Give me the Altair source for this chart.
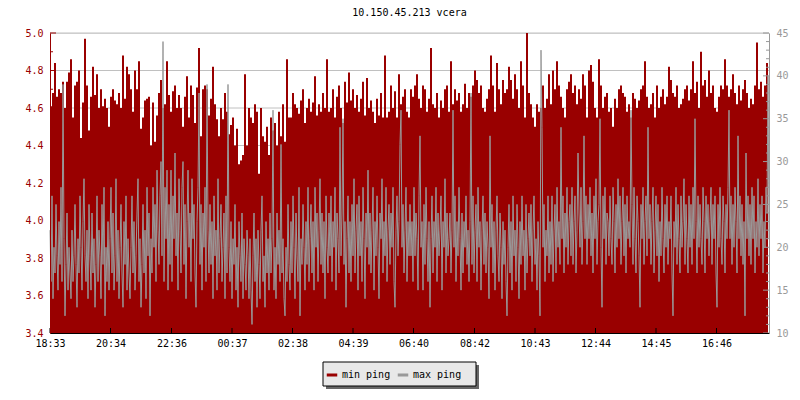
import altair as alt
import pandas as pd

TITLE = "10.150.45.213 vcera"
FONT = "DejaVu Sans Mono"
RED = "#990000"
GRAY = "#999999"
W, H = 719, 300
MIN_STEP = 4  # minutes between min-ping samples
MAX_STEP = 2  # minutes between max-ping samples

# x tick positions (minutes after 18:33) and their labels
xtick_minutes = [0, 121, 243, 364, 485, 606, 727, 849, 970, 1091, 1212, 1333]
xtick_labels = ["18:33", "20:34", "22:36", "00:37", "02:38", "04:39",
                "06:40", "08:42", "10:43", "12:44", "14:45", "16:46"]

left_major = [3.4, 3.6, 3.8, 4.0, 4.2, 4.4, 4.6, 4.8, 5.0]
left_minor = [3.5, 3.7, 3.9, 4.1, 4.3, 4.5, 4.7, 4.9]
grid_values = [4.2, 4.4, 4.6, 4.8, 5.0]
right_major = [10, 15, 20, 25, 30, 35, 40, 45]
right_minor = [v for v in range(10, 46) if v % 5 != 0]

series_names = ["min ping", "max ping"]

# min ping (left axis, ms)
min_ping = [
    4.61, 4.68, 4.84, 4.66, 4.70, 4.68, 4.74, 4.60, 4.74, 4.79, 4.86, 4.55, 4.72, 4.74, 4.80, 4.44, 4.63, 4.97, 4.72, 4.48,
    4.66, 4.82, 4.67, 4.78, 4.60, 4.70, 4.61, 4.65, 4.60, 4.50, 4.66, 4.70, 4.64, 4.62, 4.68, 4.60, 4.88, 4.65, 4.82, 4.78,
    4.70, 4.58, 4.80, 4.70, 4.85, 4.49, 4.55, 4.64, 4.65, 4.66, 4.40, 4.63, 4.42, 4.56, 4.68, 4.75, 4.60, 4.62, 4.85, 4.67,
    4.58, 4.69, 4.72, 4.60, 4.67, 4.60, 4.50, 4.66, 4.77, 4.55, 4.72, 4.67, 4.52, 4.71, 4.92, 4.45, 4.70, 4.72, 4.70, 4.56,
    4.65, 4.82, 4.62, 4.54, 4.45, 4.60, 4.54, 4.68, 4.58, 4.46, 4.51, 4.55, 4.40, 4.49, 4.30, 4.32, 4.35, 4.78, 4.40, 4.60,
    4.55, 4.52, 4.62, 4.58, 4.25, 4.60, 4.45, 4.42, 4.50, 4.35, 4.55, 4.48, 4.52, 4.40, 4.58, 4.45, 4.62, 4.42, 4.86, 4.55,
    4.55, 4.68, 4.62, 4.60, 4.57, 4.64, 4.70, 4.52, 4.60, 4.65, 4.58, 4.63, 4.77, 4.56, 4.62, 4.58, 4.68, 4.60, 4.86, 4.58,
    4.60, 4.70, 4.55, 4.66, 4.72, 4.60, 4.52, 4.74, 4.63, 4.79, 4.64, 4.70, 4.60, 4.67, 4.58, 4.65, 4.74, 4.56, 4.76, 4.60,
    4.64, 4.58, 4.52, 4.65, 4.56, 4.68, 4.55, 4.88, 4.55, 4.58, 4.72, 4.60, 4.69, 4.55, 4.78, 4.62, 4.66, 4.70, 4.58, 4.55,
    4.70, 4.66, 4.72, 4.78, 4.65, 4.60, 4.72, 4.70, 4.58, 4.65, 4.92, 4.62, 4.60, 4.68, 4.55, 4.64, 4.60, 4.70, 4.72, 4.58,
    4.85, 4.62, 4.70, 4.64, 4.68, 4.58, 4.62, 4.73, 4.60, 4.68, 4.66, 4.72, 4.80, 4.75, 4.68, 4.72, 4.60, 4.58, 4.65, 4.70,
    4.88, 4.72, 4.58, 4.84, 4.70, 4.62, 4.75, 4.68, 4.70, 4.82, 4.75, 4.65, 4.78, 4.70, 4.60, 4.85, 4.72, 4.55, 5.00, 4.68,
    4.62, 4.55, 4.50, 4.62, 4.58, 4.60, 4.72, 4.60, 4.65, 4.78, 4.62, 4.80, 4.70, 4.85, 4.72, 4.66, 4.60, 4.55, 4.70, 4.74,
    4.78, 4.68, 4.72, 4.62, 4.70, 4.65, 4.78, 4.72, 4.55, 4.80, 4.83, 4.74, 4.60, 4.55, 4.86, 4.72, 4.60, 4.66, 4.68, 4.58,
    4.60, 4.50, 4.65, 4.60, 4.70, 4.72, 4.68, 4.66, 4.58, 4.62, 4.55, 4.68, 4.65, 4.60, 4.64, 4.70, 4.72, 4.85, 4.66, 4.60,
    4.62, 4.68, 4.55, 4.72, 4.60, 4.66, 4.70, 4.62, 4.66, 4.82, 4.75, 4.68, 4.66, 4.72, 4.60, 4.62, 4.65, 4.70, 4.72, 4.64,
    4.70, 4.85, 4.68, 4.74, 4.60, 4.90, 4.72, 4.75, 4.66, 4.80, 4.68, 4.72, 4.60, 4.58, 4.66, 4.72, 4.70, 4.86, 4.72, 4.66,
    4.70, 4.78, 4.68, 4.62, 4.72, 4.64, 4.70, 4.75, 4.68, 4.60, 4.65, 4.62, 4.72, 4.95, 4.70, 4.74, 4.66, 4.72, 4.84, 4.60,
]

# max ping (right axis, ms)
max_ping = [
    22, 16, 26, 14, 20, 17, 25, 19, 15, 23, 18, 27, 16, 39, 21, 12, 18, 24, 15, 20,
    17, 14, 22, 16, 19, 25, 18, 13, 21, 17, 26, 20, 15, 23, 28, 19, 16, 22, 14, 25,
    19, 15, 24, 17, 21, 13, 18, 26, 16, 22, 19, 14, 25, 18, 27, 12, 20, 16, 23, 15,
    21, 27, 17, 24, 15, 19, 28, 16, 22, 14, 20, 25, 17, 13, 23, 18, 26, 15, 21, 17,
    14, 20, 26, 17, 23, 15, 19, 24, 28, 16, 21, 13, 18, 25, 17, 22, 14, 27, 19, 24,
    12, 21, 17, 27, 20, 25, 16, 29, 22, 18, 26, 30, 19, 44, 16, 27, 21, 29, 15, 25,
    18, 29, 16, 26, 21, 31, 19, 24, 15, 28, 22, 17, 27, 30, 18, 25, 14, 23, 29, 20,
    24, 16, 28, 21, 25, 17, 13, 23, 27, 38, 18, 25, 15, 24, 20, 27, 16, 39, 22, 17,
    25, 18, 23, 14, 26, 19, 22, 15, 28, 17, 21, 25, 16, 20, 24, 14, 26, 17, 39, 20,
    16, 23, 14, 21, 18, 25, 15, 20, 13, 23, 19, 16, 24, 14, 21, 18, 15, 22, 19, 14,
    21, 15, 11, 19, 24, 16, 21, 13, 22, 18, 14, 22, 26, 16, 19, 13, 23, 17, 21, 15,
    24, 17, 21, 36, 15, 20, 14, 24, 18, 22, 16, 32, 17, 21, 14, 12, 20, 16, 25, 18,
    15, 23, 17, 26, 20, 14, 24, 19, 16, 27, 12, 21, 18, 25, 20, 15, 23, 18, 27, 16,
    21, 25, 17, 23, 15, 27, 20, 24, 16, 22, 28, 18, 24, 17, 23, 14, 26, 20, 17, 24,
    19, 26, 16, 23, 20, 27, 15, 24, 21, 17, 34, 19, 24, 35, 18, 23, 13, 21, 26, 17,
    23, 16, 25, 19, 28, 17, 22, 25, 15, 26, 19, 23, 16, 27, 21, 14, 24, 20, 29, 18,
    24, 17, 22, 27, 15, 23, 19, 26, 20, 14, 24, 21, 28, 17, 23, 19, 27, 16, 22, 25,
    18, 24, 20, 27, 16, 13, 22, 26, 19, 23, 32, 36, 20, 25, 17, 22, 27, 16, 23, 19,
    25, 19, 23, 16, 27, 19, 24, 21, 15, 26, 33, 20, 23, 15, 25, 18, 27, 21, 16, 23,
    13, 21, 26, 17, 23, 20, 27, 16, 24, 19, 22, 26, 15, 23, 20, 28, 17, 24, 19, 21,
    24, 17, 22, 36, 20, 26, 16, 23, 19, 27, 21, 15, 24, 17, 23, 20, 26, 18, 22, 16,
    23, 38, 18, 26, 17, 22, 25, 16, 27, 20, 23, 15, 22, 26, 18, 24, 17, 23, 20, 14,
    33, 20, 25, 17, 23, 15, 22, 26, 19, 16, 24, 20, 14, 23, 18, 22, 16, 12, 20, 25,
    17, 23, 15, 26, 19, 22, 16, 25, 20, 14, 23, 18, 26, 19, 22, 15, 25, 17, 21, 24,
    19, 25, 16, 22, 26, 18, 21, 15, 23, 19, 12, 43, 34, 20, 25, 16, 22, 19, 26, 17,
    23, 18, 26, 16, 22, 25, 17, 27, 20, 23, 18, 34, 21, 26, 17, 24, 20, 27, 18, 23,
    25, 19, 27, 18, 23, 26, 17, 22, 31, 24, 20, 27, 18, 23, 33, 21, 26, 18, 25, 21,
    27, 19, 24, 17, 26, 21, 28, 18, 23, 25, 35, 20, 13, 26, 21, 27, 18, 24, 23, 19,
    26, 21, 18, 27, 23, 17, 25, 20, 28, 21, 26, 18, 23, 27, 19, 25, 17, 26, 21, 23,
    20, 36, 25, 18, 27, 21, 17, 26, 23, 19, 13, 25, 21, 27, 18, 23, 26, 19, 34, 21,
    25, 18, 23, 27, 17, 22, 26, 19, 25, 16, 23, 19, 27, 21, 17, 25, 20, 26, 18, 23,
    21, 26, 17, 12, 23, 20, 27, 18, 25, 21, 17, 26, 20, 23, 28, 18, 25, 21, 17, 26,
    20, 25, 18, 27, 21, 35, 23, 17, 26, 20, 25, 21, 18, 27, 23, 17, 26, 21, 25, 19,
    23, 27, 18, 25, 21, 26, 17, 13, 25, 20, 27, 21, 18, 26, 23, 17, 25, 21, 27, 36,
    21, 26, 18, 25, 20, 27, 23, 17, 33, 21, 26, 19, 25, 18, 23, 12, 31, 21, 26, 19,
    25, 18, 27, 21, 26, 17, 23, 20, 28, 19, 25, 21, 26, 17, 23, 20, 27, 24, 40, 21,
]

df_min = pd.DataFrame({"t": [i * MIN_STEP for i in range(len(min_ping))], "minp": min_ping})
df_max = pd.DataFrame({"t": [i * MAX_STEP for i in range(len(max_ping))], "maxp": max_ping,
                       "series": ["max ping"] * len(max_ping)})

X_DOMAIN = [0, 1438]
xscale = alt.Scale(domain=X_DOMAIN, nice=False, zero=False)
lscale = alt.Scale(domain=[3.4, 5.0], nice=False, zero=False, clamp=True)
rscale = alt.Scale(domain=[10, 45], nice=False, zero=False, clamp=True)

label_expr = "[" + ",".join("'%s'" % s for s in xtick_labels) + "][indexof([" + \
    ",".join(str(v) for v in xtick_minutes) + "], datum.value)]"

x_axis = alt.Axis(values=xtick_minutes, labelExpr=label_expr, title=None, grid=False,
                  ticks=False, labelPadding=5, domainColor="black",
                  labelColor="black", labelFont=FONT, labelFontSize=10, zindex=2,
                  labelFlush=False, labelOverlap=False)

left_axis = alt.Axis(orient="left", values=left_major, format=".1f", title=None,
                     grid=False, ticks=False, labelPadding=7, domainColor=RED,
                     labelColor=RED, labelFont=FONT, labelFontSize=10, zindex=2,
                     labelFlush=False, minExtent=42, maxExtent=42)

right_axis = alt.Axis(orient="right", values=right_major, format="d", title=None,
                      grid=False, ticks=False, labelPadding=7, domainColor=GRAY,
                      labelColor=GRAY, labelFont=FONT, labelFontSize=10, zindex=2,
                      labelFlush=False)

grid = alt.Chart(pd.DataFrame({"v": grid_values})).mark_rule(color="#c0c0c0", strokeWidth=1).encode(
    y=alt.Y("v:Q", scale=lscale, axis=None)
)

area = alt.Chart(df_min).mark_area(interpolate="step-after", color=RED, opacity=1).encode(
    x=alt.X("t:Q", scale=xscale, axis=x_axis),
    y=alt.Y("minp:Q", scale=lscale, axis=left_axis),
    y2=alt.datum(3.4),
)

lt_major = alt.Chart(pd.DataFrame({"v": left_major})).mark_rule(color=RED).encode(
    y=alt.Y("v:Q", scale=lscale, axis=None), x=alt.value(0), x2=alt.value(6))
lt_minor = alt.Chart(pd.DataFrame({"v": left_minor})).mark_rule(color=RED).encode(
    y=alt.Y("v:Q", scale=lscale, axis=None), x=alt.value(0), x2=alt.value(3))

line = alt.Chart(df_max).mark_line(strokeWidth=1, interpolate="linear").encode(
    x=alt.X("t:Q", scale=xscale, axis=x_axis),
    y=alt.Y("maxp:Q", scale=rscale, axis=right_axis),
    color=alt.Color("series:N",
                    scale=alt.Scale(domain=series_names, range=[RED, GRAY]),
                    legend=alt.Legend(orient="none", legendX=269, legendY=329,
                                      direction="horizontal", title=None,
                                      symbolType="stroke", symbolSize=110,
                                      symbolStrokeWidth=3, labelFont=FONT,
                                      labelFontSize=10, labelColor="black",
                                      labelOffset=3, columnPadding=0, padding=6)),
)

rt_major = alt.Chart(pd.DataFrame({"v": right_major})).mark_rule(color=GRAY).encode(
    y=alt.Y("v:Q", scale=rscale, axis=None), x=alt.value(W - 6), x2=alt.value(W))
rt_minor = alt.Chart(pd.DataFrame({"v": right_minor})).mark_rule(color=GRAY).encode(
    y=alt.Y("v:Q", scale=rscale, axis=None), x=alt.value(W - 3), x2=alt.value(W))

xticks = alt.Chart(pd.DataFrame({"t": xtick_minutes})).mark_rule(color="black").encode(
    x=alt.X("t:Q", scale=xscale, axis=x_axis), y=alt.value(H - 5), y2=alt.value(H))

# legend box with shadow
LEG_X, LEG_Y, LEG_W, LEG_H, SH = 273, 329, 153, 24, 3
one = pd.DataFrame({"a": [0]})
shadow = alt.Chart(one).mark_rect(color="#666666").encode(
    x=alt.value(LEG_X + SH), x2=alt.value(LEG_X + LEG_W + SH),
    y=alt.value(LEG_Y + SH), y2=alt.value(LEG_Y + LEG_H + SH))
box = alt.Chart(one).mark_rect(fill="#e8e8e8", stroke="black", strokeWidth=1).encode(
    x=alt.value(LEG_X), x2=alt.value(LEG_X + LEG_W),
    y=alt.value(LEG_Y), y2=alt.value(LEG_Y + LEG_H))

chart = alt.layer(
    grid, area, lt_major, lt_minor, line, rt_major, rt_minor, xticks, shadow, box
).resolve_scale(y="independent").properties(
    width=W, height=H, padding=0,
    title=alt.Title(TITLE, font=FONT, fontSize=10, fontWeight="normal",
                    color="black", anchor="middle", offset=10),
).configure_view(strokeWidth=0).configure(background="white")

chart.save("out.html", embed_options={"renderer": "svg", "actions": False})
